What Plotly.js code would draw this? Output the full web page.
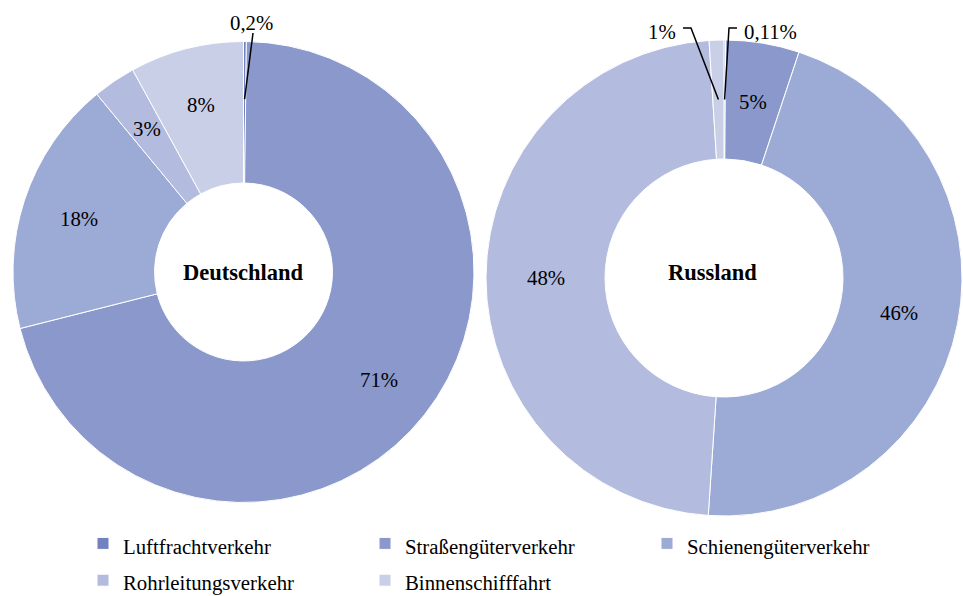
<!DOCTYPE html>
<html><head><meta charset="utf-8">
<script src="https://cdn.plot.ly/plotly-3.0.1.min.js"></script>
<style>html,body{margin:0;padding:0;background:#fff}#chart{width:963px;height:596px}</style>
</head><body><div id="chart"></div>
<script>
// ---- data ----
const categories = ['Luftfrachtverkehr', 'Straßengüterverkehr', 'Schienengüterverkehr', 'Rohrleitungsverkehr', 'Binnenschifffahrt'];
const deutschlandValues = [0.2, 71, 18, 3, 8];
const russlandValues = [0.11, 5, 46, 48, 1];
const pieTitles = ['Deutschland', 'Russland'];

// ---- style ----
const W = 963, H = 596;
const colors = ['#7282c1', '#8a98cc', '#9caad6', '#b3bbdf', '#cacfe8'];
const FONT = 'Liberation Serif, Times New Roman, serif';
const LABEL_SIZE = 20.8;
const geo = [
  {cx: 243.5, cy: 272, R: 230.5, hole: 0.386, titleX: 243.5, titleY: 272},
  {cx: 724, cy: 278, R: 238, hole: 0.5, titleX: 712, titleY: 272}
];

const fmt = v => String(v).replace('.', ',') + '%';
const legendLabels = categories.map(c => '<span style="font-size:' + LABEL_SIZE + 'px">' + c + '</span>');

function domainOf(g) {
  return {x: [(g.cx - g.R) / W, (g.cx + g.R) / W], y: [1 - (g.cy + g.R) / H, 1 - (g.cy - g.R) / H]};
}
function anchor(values, idx, g, frac) {
  const total = values.reduce((a, b) => a + b, 0);
  let start = 0;
  for (let i = 0; i < idx; i++) start += values[i];
  const mid = (start + values[idx] / 2) / total * 2 * Math.PI;
  return [g.cx + frac * g.R * Math.sin(mid), g.cy - frac * g.R * Math.cos(mid)];
}
const px = x => x / W, py = y => 1 - y / H;

function pieTrace(values, g) {
  return {
    type: 'pie', labels: legendLabels, values: values,
    text: values.map(fmt), textinfo: 'none',
    hole: g.hole, sort: false, direction: 'clockwise', rotation: 0,
    domain: domainOf(g),
    marker: {colors: colors, line: {color: '#ffffff', width: 1}},
    hoverinfo: 'label+text'
  };
}

const traces = [
  pieTrace(deutschlandValues, geo[0]),
  pieTrace(russlandValues, geo[1])
];

const annFont = {family: FONT, size: LABEL_SIZE, color: '#000'};
const titleFont = {family: FONT, size: 22.5, color: '#000'};
const annotations = [];
const shapes = [];
const lineStyle = {color: '#000', width: 1.5};

// slice labels at the middle of the ring
function addSliceLabels(values, g, skip) {
  values.forEach((v, i) => {
    if (skip.includes(i)) return;
    const p = anchor(values, i, g, 0.75);
    annotations.push({xref: 'paper', yref: 'paper', x: px(p[0]), y: py(p[1]), text: fmt(v),
      showarrow: false, font: annFont, xanchor: 'center', yanchor: 'middle'});
  });
}
addSliceLabels(deutschlandValues, geo[0], [0]);
addSliceLabels(russlandValues, geo[1], [0, 4]);

// center titles
pieTitles.forEach((t, k) => {
  annotations.push({xref: 'paper', yref: 'paper', x: px(geo[k].titleX), y: py(geo[k].titleY),
    text: '<b>' + t + '</b>', showarrow: false, font: titleFont, xanchor: 'center', yanchor: 'middle'});
});

// leader lines + labels for the thin slices
const a0 = anchor(deutschlandValues, 0, geo[0], 0.75);
const r0 = anchor(russlandValues, 0, geo[1], 0.75);
const r4 = anchor(russlandValues, 4, geo[1], 0.75);
shapes.push(
  {type: 'path', xref: 'paper', yref: 'paper', line: lineStyle,
   path: `M ${px(a0[0])} ${py(a0[1])} L ${px(253)} ${py(33)}`},
  {type: 'path', xref: 'paper', yref: 'paper', line: lineStyle,
   path: `M ${px(r4[0])} ${py(r4[1])} L ${px(691)} ${py(28)} L ${px(683)} ${py(28)}`},
  {type: 'path', xref: 'paper', yref: 'paper', line: lineStyle,
   path: `M ${px(r0[0])} ${py(r0[1])} L ${px(729)} ${py(28)} L ${px(737)} ${py(28)}`}
);
annotations.push(
  {xref: 'paper', yref: 'paper', x: px(252), y: py(22), text: fmt(deutschlandValues[0]), showarrow: false, font: annFont, xanchor: 'center', yanchor: 'middle'},
  {xref: 'paper', yref: 'paper', x: px(678), y: py(31), text: fmt(russlandValues[4]), showarrow: false, font: annFont, xanchor: 'right', yanchor: 'middle'},
  {xref: 'paper', yref: 'paper', x: px(742), y: py(31), text: fmt(russlandValues[0]), showarrow: false, font: annFont, xanchor: 'left', yanchor: 'middle'}
);

const layout = {
  width: W, height: H,
  margin: {l: 0, r: 0, t: 0, b: 0, autoexpand: false},
  paper_bgcolor: '#fff', plot_bgcolor: '#fff',
  showlegend: true,
  legend: {
    orientation: 'h', x: px(83), xanchor: 'left', y: py(520), yanchor: 'top',
    entrywidth: 237, entrywidthmode: 'pixels',
    font: {family: FONT, size: 26, color: '#000'},
    traceorder: 'normal', bgcolor: 'rgba(0,0,0,0)'
  },
  shapes: shapes, annotations: annotations
};

Plotly.newPlot('chart', traces, layout, {displayModeBar: false, staticPlot: true});
</script>
</body></html>
